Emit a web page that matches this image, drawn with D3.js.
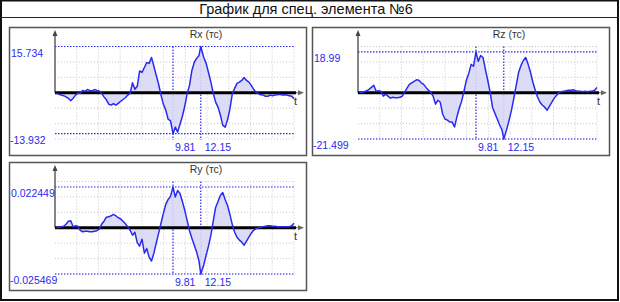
<!DOCTYPE html>
<html>
<head>
<meta charset="utf-8">
<script src="https://cdn.jsdelivr.net/npm/d3@7/dist/d3.min.js"></script>
<style>
  body { margin: 0; background: #fff; }
  svg { display: block; font-family: Arial, "Liberation Sans", sans-serif; }
</style>
</head>
<body>
<svg id="chart" width="620" height="302"></svg>
<script>
// Time points (s) shared by all three signals
const time = [0, 0.2, 0.4, 0.6, 0.8, 1, 1.2, 1.4, 1.6, 1.8,
  2, 2.2, 2.4, 2.6, 2.8, 3, 3.2, 3.4, 3.6, 3.8,
  4, 4.2, 4.4, 4.6, 4.8, 5, 5.2, 5.4, 5.6, 5.8,
  6, 6.2, 6.4, 6.6, 6.8, 7, 7.2, 7.4, 7.6, 7.8,
  8, 8.2, 8.4, 8.6, 8.8, 9, 9.2, 9.4, 9.6, 9.81,
  10, 10.2, 10.4, 10.6, 10.8, 11, 11.2, 11.4, 11.6, 11.8,
  12, 12.15, 12.4, 12.6, 12.8, 13, 13.2, 13.4, 13.6, 13.8,
  14, 14.2, 14.4, 14.6, 14.8, 15, 15.2, 15.4, 15.6, 15.8,
  16, 16.2, 16.4, 16.6, 16.8, 17, 17.2, 17.4, 17.6, 17.8,
  18, 18.2, 18.4, 18.6, 18.8, 19, 19.2, 19.4, 19.6, 19.8,
  20];

const rx = [-0.2, -0.5, -0.8, -1.0, -1.4, -1.9, -2.7, -1.9, -0.8, -0.1,
  -0.2, 0.8, 0.5, 1.1, 0.8, 0.6, 1.1, 0.8, 0.6, -0.2,
  -1.4, -2.4, -3.9, -4.2, -3.7, -4.2, -3.6, -2.9, -2.3, -1.7,
  -0.8, -0.2, 3.4, 1.2, 2.2, 7.4, 6.9, 8.6, 10.3, 10.0,
  12.0, 9.0, 5.9, 2.9, -0.8, -3.9, -5.9, -9.0, -9.6, -13.932,
  -11.7, -13.4, -10.7, -8.0, -4.6, -0.3, 2.5, 7.6, 10.3, 11.7,
  12.7, 15.734, 12.0, 10.0, 6.9, 3.6, -0.2, -3.2, -4.9, -7.6,
  -11.0, -11.7, -9.3, -5.6, -0.5, 1.5, 3.2, 3.6, 4.2, 5.2,
  4.2, 3.6, 2.5, 1.2, 0.2, -0.3, -0.7, -0.8, -1.2, -1.2,
  -0.8, -1.0, -0.8, -0.7, -0.5, -0.8, -0.7, -0.8, -1.0, -1.2,
  -2.0];

const rz = [0.2, 0.2, 0.5, 0.9, 1.6, 2.5, 3.5, 0.7, 0.9, 0.7,
  -1.6, -0.7, -1.6, -2.5, -2.1, -2.3, -2.3, -2.1, -1.6, 0.2,
  2.1, 3.9, 4.6, 5.3, 6.0, 5.8, 4.6, 3.9, 2.5, 1.2,
  0.2, -1.6, -5.3, -3.5, -4.4, -9.9, -12.2, -12.7, -13.6, -13.6,
  -15.9, -11.3, -7.2, -3.9, 0.7, 5.8, 9.0, 13.2, 12.3, 18.99,
  14.6, 17.3, 16.4, 10.9, 5.8, 0.2, -6.7, -9.5, -12.2, -15.0,
  -17.3, -21.499, -16.9, -12.7, -8.1, -2.5, 3.5, 9.5, 12.7, 15.0,
  16.4, 13.2, 9.5, 4.9, 1.2, -2.1, -4.4, -5.8, -6.7, -8.1,
  -6.2, -4.4, -2.5, -1.2, 0.2, 0.5, 0.7, 0.9, 1.2, 1.2,
  1.4, 0.9, 0.7, 0.7, 0.5, 0.7, 0.5, 0.7, 0.7, 1.2,
  2.5];

const ry = [0, 0.0003, 0.0005, 0.0008, 0.0019, 0.0036, 0.0038, 0.0005, 0.0011, 0.0008,
  -0.0014, -0.0022, -0.0019, -0.0019, -0.0022, -0.0022, -0.0019, -0.0016, -0.0008, 0.0019,
  0.0036, 0.0058, 0.0060, 0.0066, 0.0074, 0.0066, 0.0055, 0.0049, 0.0036, 0.0022,
  0.0005, -0.0014, -0.0041, -0.0025, -0.0082, -0.0101, -0.0063, -0.0140, -0.0115, -0.0162,
  -0.0183, -0.0140, -0.0085, -0.0030, 0.0025, 0.0079, 0.0129, 0.0156, 0.0173, 0.022449,
  0.0169, 0.0205, 0.0189, 0.0145, 0.0096, 0.0041, -0.0016, -0.0058, -0.0096, -0.0134,
  -0.0183, -0.025469, -0.0205, -0.0151, -0.0101, -0.0041, 0.0036, 0.0112, 0.0145, 0.0178,
  0.0194, 0.0156, 0.0123, 0.0074, 0.0019, -0.0025, -0.0052, -0.0068, -0.0079, -0.0096,
  -0.0074, -0.0052, -0.0030, -0.0014, -0.0005, 0, 0.0003, 0.0005, 0.0008, 0.0011,
  0.0011, 0.0008, 0.0008, 0.0005, 0.0005, 0.0005, 0.0005, 0.0005, 0.0005, 0.0011,
  0.0025];

const chartTitle = 'График для спец. элемента №6';
const panelTitles = ['Rx (тс)', 'Rz (тс)', 'Ry (тс)'];
const seriesList = [rx, rz, ry];

// Layout
const offsets = [[0, 0], [303, 0], [0, 135]];
const axisX = 55;        // y axis position inside a panel
const plotRight = 294;
const gridTop = 46.5, gridBottom = 139, base = 92.75;
const blue = '#2a2aee';

const svg = d3.select('#chart');

// outer frame + title bar
svg.append('rect')
  .attr('x', 1).attr('y', 0.5).attr('width', 617).attr('height', 299.5)
  .attr('fill', 'none').attr('stroke', '#111').attr('stroke-width', 2);
svg.append('line')
  .attr('x1', 0).attr('x2', 618).attr('y1', 17.5).attr('y2', 17.5)
  .attr('stroke', '#222').attr('stroke-width', 1.2);
svg.append('text')
  .attr('x', 306).attr('y', 14)
  .attr('text-anchor', 'middle')
  .style('font-size', '14.5px')
  .attr('fill', '#111')
  .text(chartTitle);

const x = d3.scaleLinear().domain([0, 20]).range([56.5, plotRight]);

seriesList.forEach((values, i) => {
  const g = svg.append('g')
    .attr('transform', 'translate(' + offsets[i][0] + ',' + offsets[i][1] + ')');

  const vMax = d3.max(values), vMin = d3.min(values);
  const M = Math.max(Math.abs(vMax), Math.abs(vMin));
  const y = d3.scaleLinear().domain([-M, M]).range([gridBottom, gridTop]);

  // panel box
  g.append('rect')
    .attr('x', 9.5).attr('y', 27.5).attr('width', 297).attr('height', 128)
    .attr('fill', '#fff').attr('stroke', '#555').attr('stroke-width', 1.5);

  // grid
  const vLines = d3.range(1, 12).map(k => axisX + k * (plotRight - axisX) / 11);
  g.selectAll('.vgrid').data(vLines).enter().append('line')
    .attr('x1', d => d).attr('x2', d => d)
    .attr('y1', gridTop).attr('y2', gridBottom)
    .attr('stroke', '#c8c8c8').attr('stroke-dasharray', '1,2');
  const hLines = d3.range(-3, 4).map(k => y(M * k / 3));
  g.selectAll('.hgrid').data(hLines).enter().append('line')
    .attr('x1', axisX).attr('x2', plotRight)
    .attr('y1', d => d).attr('y2', d => d)
    .attr('stroke', '#c8c8c8').attr('stroke-dasharray', '1,2');

  // max / min marker lines
  const iMax = values.indexOf(vMax), iMin = values.indexOf(vMin);
  [vMax, vMin].forEach(v => {
    g.append('line')
      .attr('x1', axisX).attr('x2', plotRight)
      .attr('y1', y(v)).attr('y2', y(v))
      .attr('stroke', blue).attr('stroke-width', 1.2).attr('stroke-dasharray', '1.5,1.5');
  });
  [time[iMin], time[iMax]].forEach(t => {
    g.append('line')
      .attr('x1', x(t)).attr('x2', x(t))
      .attr('y1', gridTop).attr('y2', gridBottom + 1)
      .attr('stroke', blue).attr('stroke-width', 1.2).attr('stroke-dasharray', '1.5,1.5');
  });

  // area + line
  const pts = time.map((t, j) => [t, values[j]]);
  g.append('path').datum(pts)
    .attr('d', d3.area().x(d => x(d[0])).y0(y(0)).y1(d => y(d[1])))
    .attr('fill', '#d8d8f6').attr('opacity', 0.9);

  // axes
  g.append('line')
    .attr('x1', axisX).attr('x2', axisX).attr('y1', 34).attr('y2', base)
    .attr('stroke', '#444').attr('stroke-width', 1.3);
  g.append('path')
    .attr('d', 'M' + axisX + ',30 L' + (axisX - 2.5) + ',36 L' + (axisX + 2.5) + ',36 Z')
    .attr('fill', '#444');
  g.append('line')
    .attr('x1', 296).attr('x2', 300).attr('y1', base).attr('y2', base)
    .attr('stroke', '#666').attr('stroke-width', 1);
  g.append('path')
    .attr('d', 'M304,' + base + ' L298,' + (base - 2.5) + ' L298,' + (base + 2.5) + ' Z')
    .attr('fill', '#666');
  g.append('line')
    .attr('x1', axisX).attr('x2', 296).attr('y1', y(0)).attr('y2', y(0))
    .attr('stroke', '#000').attr('stroke-width', 3);

  g.append('path').datum(pts)
    .attr('d', d3.line().x(d => x(d[0])).y(d => y(d[1])))
    .attr('fill', 'none').attr('stroke', blue).attr('stroke-width', 1.5)
    .attr('stroke-linejoin', 'round');

  // texts
  g.append('text')
    .attr('x', 206).attr('y', 38).attr('text-anchor', 'middle')
    .style('font-size', '10.5px').attr('fill', '#333')
    .text(panelTitles[i]);
  g.append('text')
    .attr('x', 294).attr('y', 105)
    .style('font-size', '11px').attr('fill', '#333')
    .text('t');

  g.append('text')
    .attr('x', 11).attr('y', y(vMax) + 10)
    .style('font-size', '10.5px').attr('fill', blue)
    .text(String(vMax));
  g.append('text')
    .attr('x', 10).attr('y', y(vMin) + 10)
    .style('font-size', '10.5px').attr('fill', blue)
    .text(String(vMin));

  const tLeft = Math.min(time[iMin], time[iMax]);
  const tRight = Math.max(time[iMin], time[iMax]);
  g.append('text')
    .attr('x', x(tLeft) + 2).attr('y', 151)
    .style('font-size', '10.5px').attr('fill', blue)
    .text(String(tLeft));
  g.append('text')
    .attr('x', x(tRight) + 4).attr('y', 151)
    .style('font-size', '10.5px').attr('fill', blue)
    .text(String(tRight));
});
</script>
</body>
</html>
